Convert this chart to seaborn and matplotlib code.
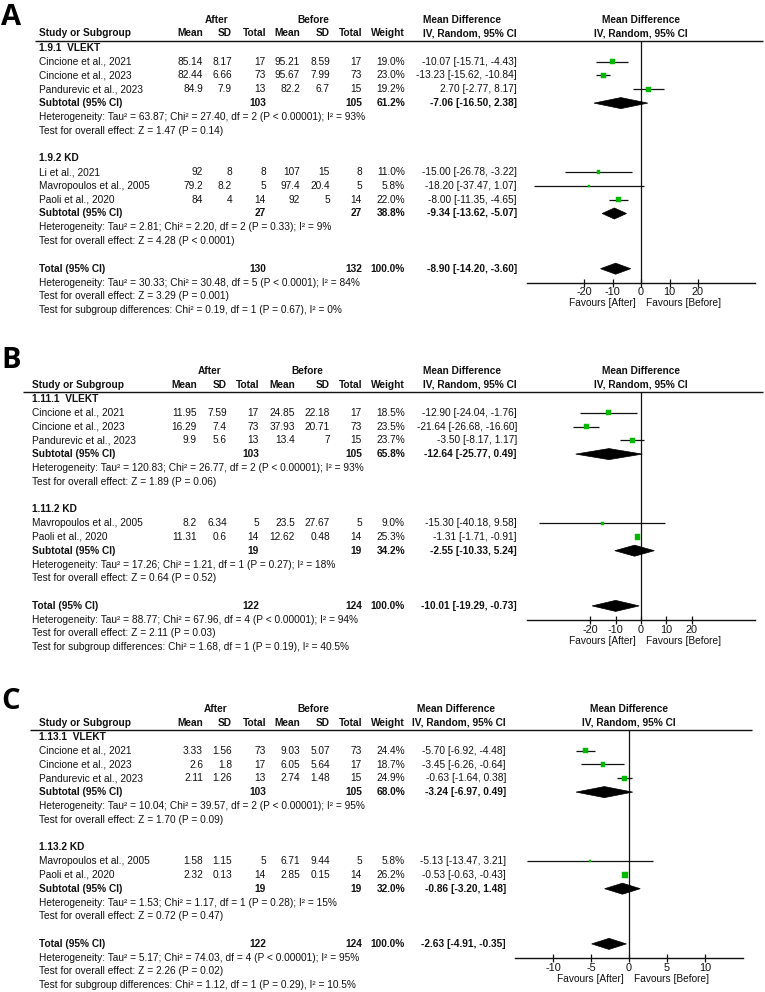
import matplotlib
matplotlib.use("Agg")
import matplotlib.pyplot as plt
from matplotlib.patches import Polygon
import seaborn as sns

# ---------------- Panel A ----------------
a_subgroups = ["1.9.1  VLEKT", "1.9.2 KD"]
a_study = ["Cincione et al., 2021", "Cincione et al., 2023", "Pandurevic et al., 2023",
           "Li et al., 2021", "Mavropoulos et al., 2005", "Paoli et al., 2020"]
a_grp = [0, 0, 0, 1, 1, 1]
a_mean_after = [85.14, 82.44, 84.9, 92, 79.2, 84]
a_sd_after = [8.17, 6.66, 7.9, 8, 8.2, 4]
a_n_after = [17, 73, 13, 8, 5, 14]
a_mean_before = [95.21, 95.67, 82.2, 107, 97.4, 92]
a_sd_before = [8.59, 7.99, 6.7, 15, 20.4, 5]
a_n_before = [17, 73, 15, 8, 5, 14]
a_weight = [19.0, 23.0, 19.2, 11.0, 5.8, 22.0]
a_md = [-10.07, -13.23, 2.70, -15.00, -18.20, -8.00]
a_lo = [-15.71, -15.62, -2.77, -26.78, -37.47, -11.35]
a_hi = [-4.43, -10.84, 8.17, -3.22, 1.07, -4.65]
a_sub_n_after = [103, 27]
a_sub_n_before = [105, 27]
a_sub_weight = [61.2, 38.8]
a_sub_md = [-7.06, -9.34]
a_sub_lo = [-16.50, -13.62]
a_sub_hi = [2.38, -5.07]
a_sub_het = ["Heterogeneity: Tau² = 63.87; Chi² = 27.40, df = 2 (P < 0.00001); I² = 93%",
             "Heterogeneity: Tau² = 2.81; Chi² = 2.20, df = 2 (P = 0.33); I² = 9%"]
a_sub_test = ["Test for overall effect: Z = 1.47 (P = 0.14)",
              "Test for overall effect: Z = 4.28 (P < 0.0001)"]
a_total = [130, 132, 100.0, -8.90, -14.20, -3.60]
a_notes = ["Heterogeneity: Tau² = 30.33; Chi² = 30.48, df = 5 (P < 0.0001); I² = 84%",
           "Test for overall effect: Z = 3.29 (P = 0.001)",
           "Test for subgroup differences: Chi² = 0.19, df = 1 (P = 0.67), I² = 0%"]

# ---------------- Panel B ----------------
b_subgroups = ["1.11.1  VLEKT", "1.11.2 KD"]
b_study = ["Cincione et al., 2021", "Cincione et al., 2023", "Pandurevic et al., 2023",
           "Mavropoulos et al., 2005", "Paoli et al., 2020"]
b_grp = [0, 0, 0, 1, 1]
b_mean_after = [11.95, 16.29, 9.9, 8.2, 11.31]
b_sd_after = [7.59, 7.4, 5.6, 6.34, 0.6]
b_n_after = [17, 73, 13, 5, 14]
b_mean_before = [24.85, 37.93, 13.4, 23.5, 12.62]
b_sd_before = [22.18, 20.71, 7, 27.67, 0.48]
b_n_before = [17, 73, 15, 5, 14]
b_weight = [18.5, 23.5, 23.7, 9.0, 25.3]
b_md = [-12.90, -21.64, -3.50, -15.30, -1.31]
b_lo = [-24.04, -26.68, -8.17, -40.18, -1.71]
b_hi = [-1.76, -16.60, 1.17, 9.58, -0.91]
b_sub_n_after = [103, 19]
b_sub_n_before = [105, 19]
b_sub_weight = [65.8, 34.2]
b_sub_md = [-12.64, -2.55]
b_sub_lo = [-25.77, -10.33]
b_sub_hi = [0.49, 5.24]
b_sub_het = ["Heterogeneity: Tau² = 120.83; Chi² = 26.77, df = 2 (P < 0.00001); I² = 93%",
             "Heterogeneity: Tau² = 17.26; Chi² = 1.21, df = 1 (P = 0.27); I² = 18%"]
b_sub_test = ["Test for overall effect: Z = 1.89 (P = 0.06)",
              "Test for overall effect: Z = 0.64 (P = 0.52)"]
b_total = [122, 124, 100.0, -10.01, -19.29, -0.73]
b_notes = ["Heterogeneity: Tau² = 88.77; Chi² = 67.96, df = 4 (P < 0.00001); I² = 94%",
           "Test for overall effect: Z = 2.11 (P = 0.03)",
           "Test for subgroup differences: Chi² = 1.68, df = 1 (P = 0.19), I² = 40.5%"]

# ---------------- Panel C ----------------
c_subgroups = ["1.13.1  VLEKT", "1.13.2 KD"]
c_study = ["Cincione et al., 2021", "Cincione et al., 2023", "Pandurevic et al., 2023",
           "Mavropoulos et al., 2005", "Paoli et al., 2020"]
c_grp = [0, 0, 0, 1, 1]
c_mean_after = [3.33, 2.6, 2.11, 1.58, 2.32]
c_sd_after = [1.56, 1.8, 1.26, 1.15, 0.13]
c_n_after = [73, 17, 13, 5, 14]
c_mean_before = [9.03, 6.05, 2.74, 6.71, 2.85]
c_sd_before = [5.07, 5.64, 1.48, 9.44, 0.15]
c_n_before = [73, 17, 15, 5, 14]
c_weight = [24.4, 18.7, 24.9, 5.8, 26.2]
c_md = [-5.70, -3.45, -0.63, -5.13, -0.53]
c_lo = [-6.92, -6.26, -1.64, -13.47, -0.63]
c_hi = [-4.48, -0.64, 0.38, 3.21, -0.43]
c_sub_n_after = [103, 19]
c_sub_n_before = [105, 19]
c_sub_weight = [68.0, 32.0]
c_sub_md = [-3.24, -0.86]
c_sub_lo = [-6.97, -3.20]
c_sub_hi = [0.49, 1.48]
c_sub_het = ["Heterogeneity: Tau² = 10.04; Chi² = 39.57, df = 2 (P < 0.00001); I² = 95%",
             "Heterogeneity: Tau² = 1.53; Chi² = 1.17, df = 1 (P = 0.28); I² = 15%"]
c_sub_test = ["Test for overall effect: Z = 1.70 (P = 0.09)",
              "Test for overall effect: Z = 0.72 (P = 0.47)"]
c_total = [122, 124, 100.0, -2.63, -4.91, -0.35]
c_notes = ["Heterogeneity: Tau² = 5.17; Chi² = 74.03, df = 4 (P < 0.00001); I² = 95%",
           "Test for overall effect: Z = 2.26 (P = 0.02)",
           "Test for subgroup differences: Chi² = 1.12, df = 1 (P = 0.29), I² = 10.5%"]

col_heads = ["Mean", "SD", "Total", "Mean", "SD", "Total", "Weight"]

W, H = 765, 992
ROW = 13.8
FS = 7.3
INK = "#111111"
GREEN = "#00b800"

sns.set_theme(style="white")
plt.rcParams["font.family"] = ["Liberation Sans", "DejaVu Sans"]
plt.rcParams["axes.unicode_minus"] = False


def fmt(v):
    return f"{v:g}"


def ci_text(m, lo, hi):
    return f"{m:.2f} [{lo:.2f}, {hi:.2f}]"


def diamond(ax, m, lo, hi, y, h=0.4):
    ax.add_patch(Polygon([(lo, y), (m, y - h), (hi, y), (m, y + h)],
                         closed=True, facecolor="black", edgecolor="black", lw=0.5, zorder=3))


def draw_panel(fig, bg, d, lay):
    top = lay["line_y"]
    first = top + 0.5 * ROW
    cols = lay["cols"]
    txt = dict(fontsize=FS, color=INK, va="center")
    bold = dict(txt, fontweight="bold")

    # panel letter + headers
    bg.text(1, lay["letter_y"], lay["letter"], fontsize=21, fontweight="bold",
            family="Open Sans", color="black", va="baseline", ha="left")
    bg.text(lay["after_x"], top - 21, "After", ha="center", **bold)
    bg.text(lay["before_x"], top - 21, "Before", ha="center", **bold)
    bg.text(lay["md_head"], top - 21, "Mean Difference", ha="center", **bold)
    zero_px = (lay["forest"][0] + lay["forest"][1]) / 2
    bg.text(zero_px, top - 21, "Mean Difference", ha="center", **bold)
    bg.text(zero_px, top - 7.5, "IV, Random, 95% CI", ha="center", **bold)
    bg.text(lay["label_x"], top - 7.5, "Study or Subgroup", ha="left", **bold)
    for x, h in zip(cols, col_heads):
        bg.text(x, top - 7.5, h, ha="right", **bold)
    bg.text(lay["md_x"], top - 7.5, "IV, Random, 95% CI", ha="right", **bold)
    bg.hlines(top, lay["line_x"][0], lay["line_x"][1], color=INK, lw=1.0)

    # table rows
    r = 0
    study_rows, sub_rows = [], []
    for g in range(len(d["subgroups"])):
        bg.text(lay["label_x"], first + r * ROW, d["subgroups"][g], ha="left", **bold)
        r += 1
        for i in [k for k, gg in enumerate(d["grp"]) if gg == g]:
            y = first + r * ROW
            bg.text(lay["label_x"], y, d["study"][i], ha="left", **txt)
            vals = [fmt(d["mean_after"][i]), fmt(d["sd_after"][i]), fmt(d["n_after"][i]),
                    fmt(d["mean_before"][i]), fmt(d["sd_before"][i]), fmt(d["n_before"][i]),
                    f"{d['weight'][i]:.1f}%"]
            for x, v in zip(cols, vals):
                bg.text(x, y, v, ha="right", **txt)
            bg.text(lay["md_x"], y, ci_text(d["md"][i], d["lo"][i], d["hi"][i]), ha="right", **txt)
            study_rows.append(r)
            r += 1
        y = first + r * ROW
        bg.text(lay["label_x"], y, "Subtotal (95% CI)", ha="left", **bold)
        bg.text(cols[2], y, fmt(d["sub_n_after"][g]), ha="right", **bold)
        bg.text(cols[5], y, fmt(d["sub_n_before"][g]), ha="right", **bold)
        bg.text(cols[6], y, f"{d['sub_weight'][g]:.1f}%", ha="right", **bold)
        bg.text(lay["md_x"], y, ci_text(d["sub_md"][g], d["sub_lo"][g], d["sub_hi"][g]),
                ha="right", **bold)
        sub_rows.append(r)
        r += 1
        bg.text(lay["label_x"], first + r * ROW, d["sub_het"][g], ha="left", **txt)
        r += 1
        bg.text(lay["label_x"], first + r * ROW, d["sub_test"][g], ha="left", **txt)
        r += 2
    tot = d["total"]
    y = first + r * ROW
    bg.text(lay["label_x"], y, "Total (95% CI)", ha="left", **bold)
    bg.text(cols[2], y, fmt(tot[0]), ha="right", **bold)
    bg.text(cols[5], y, fmt(tot[1]), ha="right", **bold)
    bg.text(cols[6], y, f"{tot[2]:.1f}%", ha="right", **bold)
    bg.text(lay["md_x"], y, ci_text(tot[3], tot[4], tot[5]), ha="right", **bold)
    total_row = r
    for k, note in enumerate(d["notes"]):
        bg.text(lay["label_x"], first + (r + 1 + k) * ROW, note, ha="left", **txt)

    # forest plot axes
    left, right = lay["forest"]
    bottom_px = first + (total_row + 1) * ROW
    ax = fig.add_axes([left / W, 1 - bottom_px / H, (right - left) / W, (bottom_px - top) / H])
    ax.patch.set_alpha(0)
    ax.set_xlim(-lay["lim"], lay["lim"])
    ax.set_ylim(total_row + 1, -0.5)
    for s in ["left", "right", "top"]:
        ax.spines[s].set_visible(False)
    ax.spines["bottom"].set_color(INK)
    ax.spines["bottom"].set_linewidth(1.0)
    ax.axvline(0, color=INK, lw=0.9, zorder=1)
    ax.hlines(study_rows, d["lo"], d["hi"], color=INK, lw=0.9, zorder=2)
    sizes = [0.56 * w for w in d["weight"]]
    sns.scatterplot(x=d["md"], y=study_rows, marker="s", s=sizes, color=GREEN,
                    edgecolor=GREEN, linewidth=0.3, ax=ax, zorder=4)
    for g, rr in enumerate(sub_rows):
        diamond(ax, d["sub_md"][g], d["sub_lo"][g], d["sub_hi"][g], rr)
    diamond(ax, tot[3], tot[4], tot[5], total_row)
    ax.set_xticks(lay["ticks"])
    ax.set_xticklabels([fmt(t) for t in lay["ticks"]])
    ax.set_yticks([])
    ax.tick_params(axis="x", direction="inout", length=6, width=0.9, pad=0.5,
                   labelsize=7.8, colors=INK, bottom=True)
    ax.set_xlabel("")
    ax.set_ylabel("")
    ax.grid(False)
    ax.annotate("Favours [After]", xy=(0, 0), xycoords=("data", "axes fraction"),
                xytext=(-3.6, -15), textcoords="offset points", ha="right", va="center",
                fontsize=FS, color=INK)
    ax.annotate("Favours [Before]", xy=(0, 0), xycoords=("data", "axes fraction"),
                xytext=(3.6, -15), textcoords="offset points", ha="left", va="center",
                fontsize=FS, color=INK)


def panel(prefix):
    g = globals()
    keys = ["subgroups", "study", "grp", "mean_after", "sd_after", "n_after", "mean_before",
            "sd_before", "n_before", "weight", "md", "lo", "hi", "sub_n_after", "sub_n_before",
            "sub_weight", "sub_md", "sub_lo", "sub_hi", "sub_het", "sub_test", "total", "notes"]
    return {k: g[f"{prefix}_{k}"] for k in keys}


layouts = {
    "a": dict(letter="A", letter_y=25, line_y=41, label_x=39, line_x=(35, 763),
              cols=[203, 232, 266, 300, 330, 362, 405], md_x=517, md_head=462,
              after_x=217, before_x=313, forest=(527, 755), lim=40, ticks=[-20, -10, 0, 10, 20]),
    "b": dict(letter="B", letter_y=368, line_y=392, label_x=32, line_x=(23, 763),
              cols=[197, 227, 259, 295, 330, 362, 405], md_x=517, md_head=462,
              after_x=210, before_x=307, forest=(527, 755), lim=45, ticks=[-20, -10, 0, 10, 20]),
    "c": dict(letter="C", letter_y=709, line_y=730, label_x=39, line_x=(30, 752),
              cols=[203, 232, 266, 300, 330, 362, 405], md_x=506, md_head=456,
              after_x=216, before_x=313, forest=(515, 743), lim=15, ticks=[-10, -5, 0, 5, 10]),
}

fig = plt.figure(figsize=(W / 100, H / 100), dpi=100)
fig.patch.set_facecolor("white")
bg = fig.add_axes([0, 0, 1, 1])
bg.set_xlim(0, W)
bg.set_ylim(H, 0)
bg.axis("off")

for p in ["a", "b", "c"]:
    draw_panel(fig, bg, panel(p), layouts[p])

fig.savefig("out.png", dpi=100)
